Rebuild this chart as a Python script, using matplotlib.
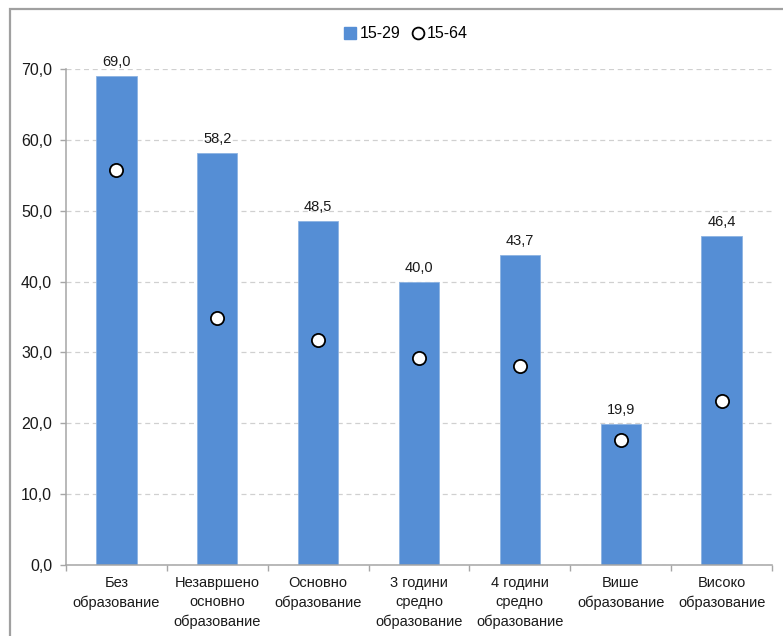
import matplotlib
matplotlib.use("Agg")
import matplotlib.pyplot as plt
from matplotlib.lines import Line2D
from matplotlib.patches import Rectangle

plt.rcParams['font.family'] = ['Liberation Sans Narrow', 'Liberation Sans', 'DejaVu Sans']

categories = [
    "Без\nобразование",
    "Незавршено\nосновно\nобразование",
    "Основно\nобразование",
    "3 години\nсредно\nобразование",
    "4 години\nсредно\nобразование",
    "Више\nобразование",
    "Високо\nобразование",
]
youth_15_29 = [69.0, 58.2, 48.5, 40.0, 43.7, 19.9, 46.4]
total_15_64 = [55.7, 34.9, 31.8, 29.2, 28.1, 17.6, 23.1]
y_ticks = [0, 10, 20, 30, 40, 50, 60, 70]

bar_color = "#558ED5"
axis_gray = "#A6A6A6"

fig = plt.figure(figsize=(7.83, 6.36), dpi=100)

# outer chart frame
fig.patches.append(Rectangle((10 / 783, -0.05), 1.0, 1 - 9 / 636 + 0.05,
                             transform=fig.transFigure, fill=False,
                             edgecolor="#A0A0A0", linewidth=1.6))

ax = fig.add_axes([66 / 783, 1 - 565 / 636, (772 - 66) / 783, (565 - 69) / 636])
x = list(range(len(categories)))

ax.bar(x, youth_15_29, width=0.4, color=bar_color, edgecolor="#8DB3E2",
       linewidth=0.6, zorder=2)
ax.plot(x, total_15_64, linestyle="none", marker="o", markersize=9.5,
        markerfacecolor="white", markeredgecolor="black",
        markeredgewidth=1.3, zorder=3)

for xi, v in zip(x, youth_15_29):
    ax.annotate(f"{v:.1f}".replace(".", ","), (xi, v), xytext=(0, 5),
                textcoords="offset points", ha="center", va="bottom",
                fontsize=10.5, color="#1a1a1a")

ax.set_xlim(-0.5, len(categories) - 0.5)
ax.set_ylim(0, 70)
ax.set_yticks(y_ticks)
ax.set_yticklabels([f"{t:.1f}".replace(".", ",") for t in y_ticks],
                   fontsize=11.5, color="#1a1a1a")
ax.yaxis.grid(True, linestyle=(0, (4, 3)), color="#D0D0D0", linewidth=0.9, zorder=0)
ax.set_axisbelow(True)

ax.set_xticks([i - 0.5 for i in range(len(categories) + 1)], minor=False)
ax.set_xticklabels([])
ax.set_xticks(x, minor=True)
ax.set_xticklabels(categories, minor=True, fontsize=10.5, color="#1a1a1a",
                   linespacing=1.45)
ax.tick_params(axis="x", which="minor", length=0, pad=8)
ax.tick_params(axis="x", which="major", length=4, color=axis_gray, width=1)
ax.tick_params(axis="y", length=4, color=axis_gray, width=1, pad=6)

for side in ("top", "right"):
    ax.spines[side].set_visible(False)
for side in ("left", "bottom"):
    ax.spines[side].set_color(axis_gray)
    ax.spines[side].set_linewidth(1.1)

handles = [
    Line2D([], [], linestyle="none", marker="s", markersize=9,
           markerfacecolor=bar_color, markeredgecolor=bar_color),
    Line2D([], [], linestyle="none", marker="o", markersize=8.5,
           markerfacecolor="white", markeredgecolor="black", markeredgewidth=1.3),
]
fig.legend(handles, ["15-29", "15-64"], loc="center",
           bbox_to_anchor=(405 / 783, 1 - 34 / 636), ncol=2, frameon=False,
           fontsize=11.5, handletextpad=0.1, columnspacing=0.6, handlelength=1.0)

fig.savefig("out.png", dpi=100)
